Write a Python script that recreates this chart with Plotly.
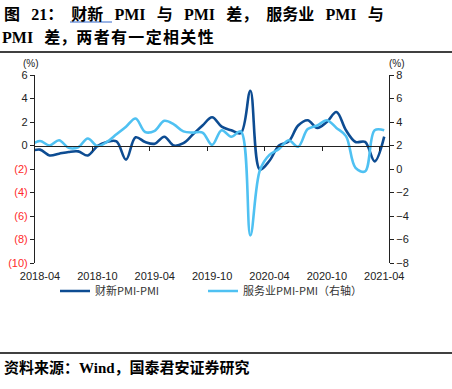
import plotly.graph_objects as go

# ---------------- data ----------------
# month index: 0 = 2018-04 ... 36 = 2021-04 (index -1 = 2018-03, partly clipped by axis)
month_idx = list(range(-1, 37))
caixin_diff = [-0.5, -0.35, -0.85, -0.7, -0.55, -0.5, -0.85, -0.05, 0.3, 0.35,
               -1.2, 0.7, 0.3, 0.15, 0.75, 0.0, 0.2, 0.95, 1.7, 2.4,
               1.6, 1.3, 1.05, 4.66, -2.05, -1.3, 0.0, 0.33, 1.7, 2.15,
               1.5, 2.0, 2.85, 1.3, 0.3, 0.3, -1.35, 0.75]
service_diff = [2.0, 2.38, 2.0, 2.45, 1.8, 1.85, 2.6, 1.95, 2.3, 2.95,
                3.6, 4.3, 3.15, 3.25, 4.1, 3.8, 3.2, 3.1, 3.1, 2.05,
                3.3, 2.75, 3.2, -5.65, -0.1, 1.2, 1.7, 2.45, 1.9, 3.4,
                3.7, 4.15, 3.5, 2.8, 0.1, -0.2, 3.3, 3.3]
xtick_pos = [0, 6, 12, 18, 24, 30, 36]
xtick_labels = ["2018-04", "2018-10", "2019-04", "2019-10", "2020-04", "2020-10", "2021-04"]
ytick_left_vals = [6, 4, 2, 0, -2, -4, -6, -8, -10]
ytick_left_text = ["6", "4", "2", "0", "(2)", "(4)", "(6)", "(8)", "(10)"]
ytick_right_vals = [8, 6, 4, 2, 0, -2, -4, -6, -8]
ytick_right_text = ["8", "6", "4", "2", "0", "−2", "−4", "−6", "−8"]
series_names = ["财新PMI-PMI", "服务业PMI-PMI（右轴）"]

# ---------------- layout helpers ----------------
W, H = 452, 389
L, R, T, B = 35, 389, 75, 263


def px(x):
    return (x - L) / (R - L)


def py(y):
    return (B - y) / (B - T)


DARK = "#0d4c92"
LIGHT = "#4fc1f2"
RED = "#ff2a2a"

fig = go.Figure()
fig.add_trace(go.Scatter(x=month_idx, y=caixin_diff, name=series_names[0], mode="lines",
                         line=dict(color=DARK, width=2.6, shape="spline", smoothing=1.0),
                         yaxis="y", xaxis="x", legend="legend"))
fig.add_trace(go.Scatter(x=month_idx, y=service_diff, name=series_names[1], mode="lines",
                         line=dict(color=LIGHT, width=2.6, shape="spline", smoothing=1.0),
                         yaxis="y2", xaxis="x", legend="legend2"))

left_text = [t if v >= 0 else f'<span style="color:{RED}">{t}</span>'
             for v, t in zip(ytick_left_vals, ytick_left_text)]

tickfont = dict(family="Liberation Sans, Arial, sans-serif", size=11, color="#222222")
legfont = dict(family="Noto Sans CJK SC, sans-serif", size=11, color="#333333")
fig.update_layout(
    width=W, height=H,
    margin=dict(l=L, r=W - R, t=T, b=H - B, autoexpand=False),
    paper_bgcolor="white", plot_bgcolor="white",
    showlegend=True,
    xaxis=dict(range=[-0.52, 36.5], tickvals=xtick_pos, ticktext=xtick_labels,
               showline=False, showgrid=False, zeroline=False, ticks="",
               tickfont=tickfont, ticklabelstandoff=5),
    xaxis2=dict(range=[-0.52, 36.5], overlaying="x", anchor="free", position=0.625,
                tickvals=[5.5, 11.5, 17.5, 23.5, 29.5, 35.5], showticklabels=False,
                ticks="outside", ticklen=4, tickwidth=1, tickcolor="#222222",
                showline=True, linecolor="#222222", linewidth=1, showgrid=False, zeroline=False),
    yaxis=dict(range=[-10, 6], tickvals=ytick_left_vals, ticktext=left_text,
               showline=True, linecolor="#222222", linewidth=1.2, ticks="outside",
               ticklen=4, tickcolor="#222222", showgrid=False, zeroline=False,
               tickfont=tickfont),
    yaxis2=dict(range=[-8, 8], tickvals=ytick_right_vals, ticktext=ytick_right_text,
                overlaying="y", side="right", showline=True, linecolor="#222222",
                linewidth=1.2, ticks="outside", ticklen=4, tickcolor="#222222",
                showgrid=False, zeroline=False, tickfont=tickfont),
    legend=dict(orientation="h", x=px(55), y=py(291), xanchor="left", yanchor="middle",
                font=legfont, itemwidth=30, bgcolor="rgba(0,0,0,0)"),
    legend2=dict(orientation="h", x=px(203), y=py(291), xanchor="left", yanchor="middle",
                 font=legfont, itemwidth=30, bgcolor="rgba(0,0,0,0)"),
)

# dummy trace to put the zero-line axis in place
fig.add_trace(go.Scatter(x=[None], y=[None], xaxis="x2", yaxis="y", showlegend=False,
                         hoverinfo="skip"))

G = "\u2002\u2009"  # wide gap between words
HS = "\u200a"  # hair space
title1 = "<b>图" + G + "21：" + "\u2002" + "财新" + G + "PMI" + G + "与" + G + "PMI" + G + "差，" \
         + "\u2002" + "服务业" + G + "PMI" + G + "与</b>"
title2 = "<b>PMI" + G + "差，" + HS.join("两者有一定相关性") + "</b>"
title_font = dict(family="Liberation Serif, Noto Sans CJK SC, serif", size=16, color="#000000")
fig.add_annotation(text=title1,
                   xref="paper", yref="paper", x=px(2), y=py(14), xanchor="left", yanchor="middle",
                   showarrow=False, font=title_font)
fig.add_annotation(text=title2,
                   xref="paper", yref="paper", x=px(0), y=py(37), xanchor="left", yanchor="middle",
                   showarrow=False, font=title_font)
fig.add_annotation(text="<b>资料来源：Wind，国泰君安证券研究</b>",
                   xref="paper", yref="paper", x=px(2), y=py(367), xanchor="left", yanchor="middle",
                   showarrow=False,
                   font=dict(family="Liberation Serif, Noto Sans CJK SC, serif", size=15, color="#000000"))
unit_font = dict(family="Liberation Sans, sans-serif", size=10, color="#222222")
fig.add_annotation(text="(%)", xref="paper", yref="paper", x=px(31), y=py(63),
                   xanchor="center", yanchor="middle", showarrow=False, font=unit_font)
fig.add_annotation(text="(%)", xref="paper", yref="paper", x=px(397), y=py(63),
                   xanchor="center", yanchor="middle", showarrow=False, font=unit_font)

# rules
fig.add_shape(type="line", xref="paper", yref="paper", x0=px(0), x1=px(W), y0=py(52), y1=py(52),
              line=dict(color="#000000", width=1.5))
fig.add_shape(type="line", xref="paper", yref="paper", x0=px(0), x1=px(W), y0=py(353), y1=py(353),
              line=dict(color="#000000", width=1.5))
fig.add_shape(type="line", xref="paper", yref="paper", x0=px(70), x1=px(112), y0=py(22), y1=py(22),
              line=dict(color="#3366cc", width=1))

fig.write_html("out.html", config={"displayModeBar": False},
               post_script="document.body.style.margin='0px';")
